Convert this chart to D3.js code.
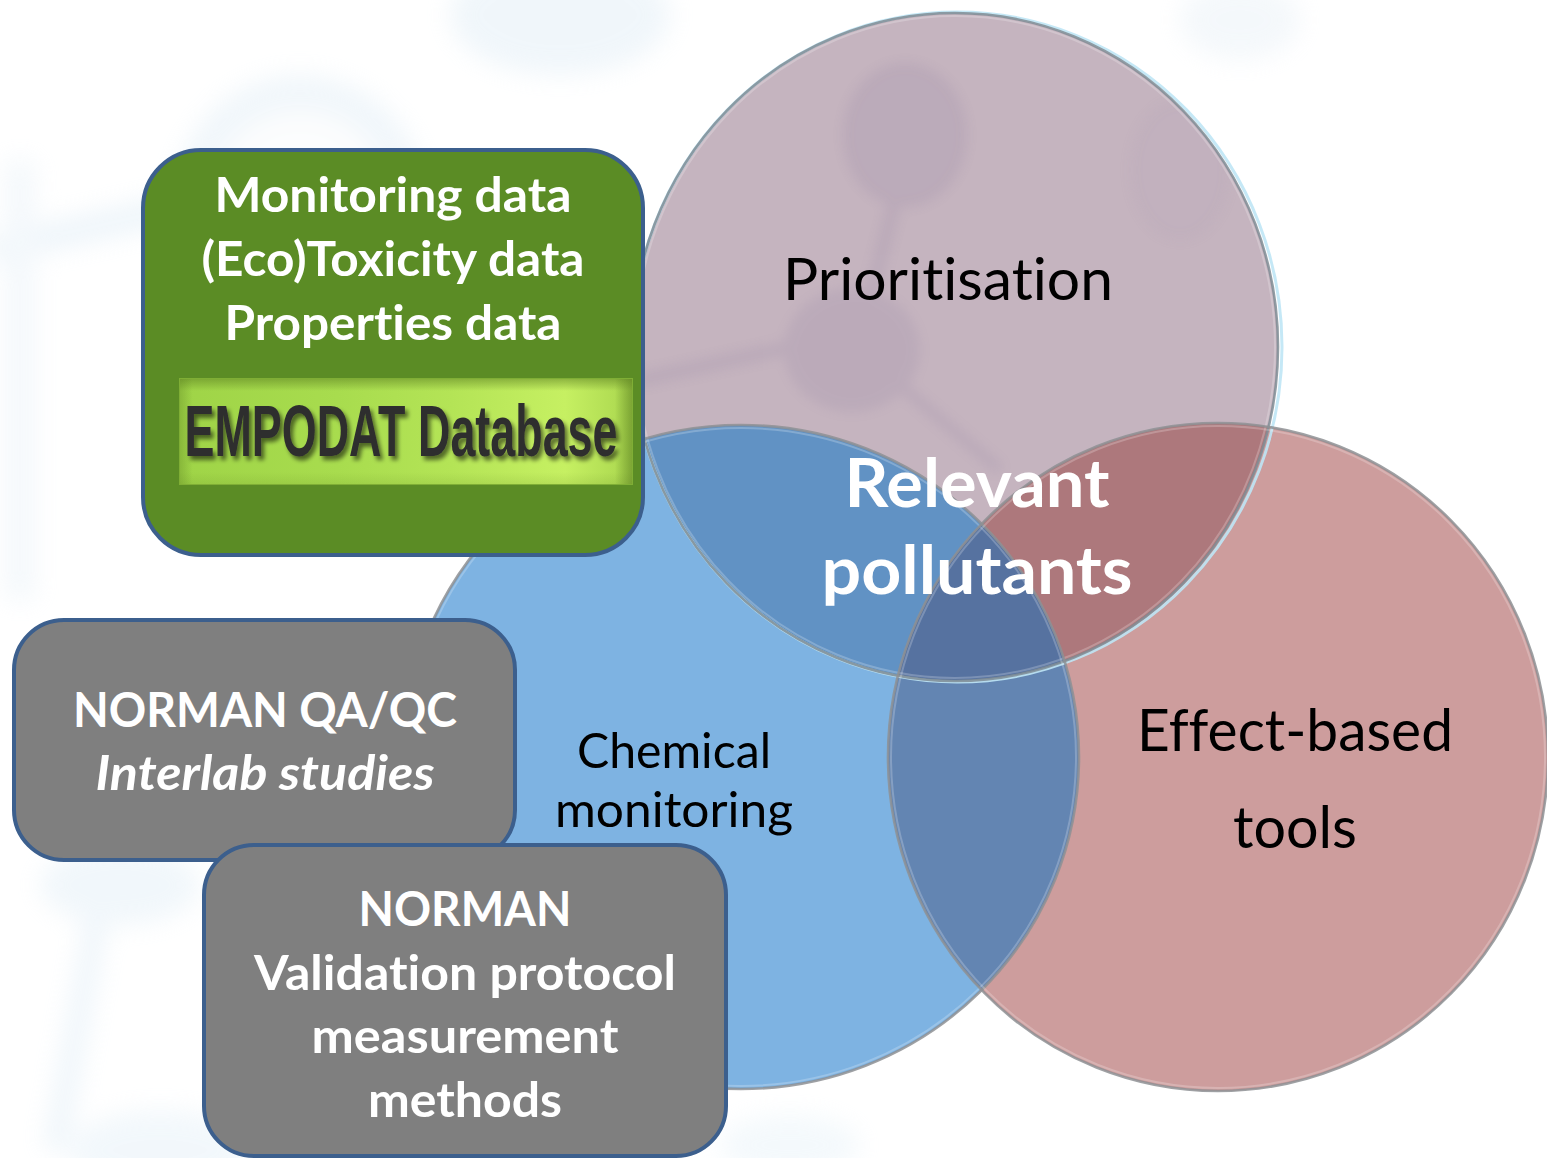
<!DOCTYPE html>
<html><head><meta charset="utf-8">
<script src="https://cdn.jsdelivr.net/npm/d3@7"></script>
<style>html,body{margin:0;padding:0;background:#fff;overflow:hidden}
text{font-variant-ligatures:none;font-feature-settings:"liga" 0,"clig" 0}</style>
</head><body><svg id="chart" width="1547" height="1158"></svg>
<script>
// ---------- content (data) ----------
const setNames = ["Prioritisation", "Chemical monitoring", "Effect-based tools"];
const setLabelLines = [["Prioritisation"], ["Chemical", "monitoring"], ["Effect-based", "tools"]];
const centerLabelLines = ["Relevant", "pollutants"];
const dataBoxLines = ["Monitoring data", "(Eco)Toxicity data", "Properties data"];
const databaseLabel = ["EMPODAT Database"];
const qaqcLines = ["NORMAN QA/QC", "Interlab studies"];
const validationLines = ["NORMAN", "Validation protocol", "measurement", "methods"];

// ---------- layout & style ----------
const W = 1547, H = 1158;
const svg = d3.select("#chart");
const defs = svg.append("defs");
const FONT = "Lato, 'Open Sans', sans-serif";

const ell = [
  {cx: 955, cy: 347, rx: 323, ry: 334, fill: "#c5b4bf"},   // Prioritisation
  {cx: 741, cy: 757, rx: 338, ry: 332, fill: "#7eb3e2"},   // Chemical monitoring
  {cx: 1218, cy: 757, rx: 330, ry: 334, fill: "#cd9d9d"}   // Effect-based tools
];
const colAB = "#6192c4", colAC = "#ad787c", colBC = "#6385b2", colABC = "#5672a0";

// filters
const blur = (id, s) => defs.append("filter").attr("id", id).attr("x", "-50%").attr("y", "-50%").attr("width", "200%").attr("height", "200%")
  .append("feGaussianBlur").attr("stdDeviation", s);
blur("blur12", 12); blur("blur6", 6);
const sh = defs.append("filter").attr("id", "txtShadow").attr("x", "-10%").attr("y", "-30%").attr("width", "130%").attr("height", "160%");
sh.append("feGaussianBlur").attr("in", "SourceAlpha").attr("stdDeviation", 2.2).attr("result", "b");
sh.append("feOffset").attr("in", "b").attr("dx", 3).attr("dy", 4).attr("result", "o");
sh.append("feComponentTransfer").attr("in", "o").attr("result", "o2").append("feFuncA").attr("type", "linear").attr("slope", 0.55);
const mg = sh.append("feMerge"); mg.append("feMergeNode").attr("in", "o2"); mg.append("feMergeNode").attr("in", "SourceGraphic");

// clip paths
["clipA", "clipB", "clipC"].forEach((id, i) => {
  defs.append("clipPath").attr("id", id).append("ellipse")
    .attr("cx", ell[i].cx).attr("cy", ell[i].cy).attr("rx", ell[i].rx).attr("ry", ell[i].ry);
});

// ---------- faint background molecule ----------
const bg = svg.append("g").attr("filter", "url(#blur12)").attr("opacity", 0.3);
bg.append("circle").attr("cx", 300).attr("cy", 200).attr("r", 125).attr("fill", "#cfe3f1");
bg.append("circle").attr("cx", 300).attr("cy", 200).attr("r", 90).attr("fill", "#f6f9fc");
bg.append("ellipse").attr("cx", 560).attr("cy", 15).attr("rx", 110).attr("ry", 60).attr("fill", "#cfe3f1");
bg.append("ellipse").attr("cx", 1240).attr("cy", 20).attr("rx", 60).attr("ry", 40).attr("fill", "#dde9f3");
bg.append("line").attr("x1", -10).attr("y1", 250).attr("x2", 190).attr("y2", 205).attr("stroke", "#c8dff0").attr("stroke-width", 28);
bg.append("line").attr("x1", 20).attr("y1", 160).attr("x2", 20).attr("y2", 600).attr("stroke", "#dbe9f4").attr("stroke-width", 30);
bg.append("line").attr("x1", 55).attr("y1", 1150).attr("x2", 100).attr("y2", 900).attr("stroke", "#c8dff0").attr("stroke-width", 22);
bg.append("ellipse").attr("cx", 120).attr("cy", 885).attr("rx", 80).attr("ry", 40).attr("fill", "#d2e5f2");
bg.append("ellipse").attr("cx", 160).attr("cy", 1150).attr("rx", 90).attr("ry", 40).attr("fill", "#d6e8f4");
bg.append("ellipse").attr("cx", 790).attr("cy", 1145).attr("rx", 70).attr("ry", 30).attr("fill", "#dbecf6");

// ---------- Venn fills ----------
const venn = svg.append("g");
const drawE = (g, e, fill) => g.append("ellipse").attr("cx", e.cx).attr("cy", e.cy).attr("rx", e.rx).attr("ry", e.ry).attr("fill", fill);
drawE(venn, ell[0], ell[0].fill);
drawE(venn, ell[2], ell[2].fill);
drawE(venn, ell[1], ell[1].fill);
const gA = venn.append("g").attr("clip-path", "url(#clipA)");
drawE(gA, ell[1], colAB);
drawE(gA, ell[2], colAC);
const gC = venn.append("g").attr("clip-path", "url(#clipC)");
drawE(gC, ell[1], colBC);
const gAC = venn.append("g").attr("clip-path", "url(#clipA)").append("g").attr("clip-path", "url(#clipC)");
drawE(gAC, ell[1], colABC);

// faint molecule inside the prioritisation circle
const mol = venn.append("g").attr("clip-path", "url(#clipA)").append("g").attr("filter", "url(#blur6)").attr("opacity", 0.11);
mol.append("ellipse").attr("cx", 905).attr("cy", 135).attr("rx", 62).attr("ry", 72).attr("fill", "#6f6290");
mol.append("ellipse").attr("cx", 852).attr("cy", 350).attr("rx", 68).attr("ry", 62).attr("fill", "#6f6290");
mol.append("line").attr("x1", 895).attr("y1", 200).attr("x2", 870).attr("y2", 300).attr("stroke", "#6f6290").attr("stroke-width", 14);
mol.append("line").attr("x1", 640).attr("y1", 380).attr("x2", 800).attr("y2", 345).attr("stroke", "#6f6290").attr("stroke-width", 14);
mol.append("line").attr("x1", 900).attr("y1", 385).attr("x2", 1000).attr("y2", 470).attr("stroke", "#6f6290").attr("stroke-width", 12);
mol.append("ellipse").attr("cx", 1180).attr("cy", 170).attr("rx", 50).attr("ry", 70).attr("fill", "#a898b4");

// rims
const rims = svg.append("g").attr("fill", "none");
rims.append("ellipse").attr("cx", ell[0].cx + 2).attr("cy", ell[0].cy).attr("rx", ell[0].rx + 2).attr("ry", ell[0].ry + 1)
  .attr("stroke", "#bfe6f5").attr("stroke-width", 3).attr("opacity", 0.9);
ell.forEach((e, i) => {
  rims.append("ellipse").attr("cx", e.cx).attr("cy", e.cy).attr("rx", e.rx).attr("ry", e.ry)
    .attr("stroke", i === 0 ? "#7f8c94" : "#8e9094").attr("stroke-width", 2.6).attr("opacity", 0.85);
  rims.append("ellipse").attr("cx", e.cx).attr("cy", e.cy).attr("rx", e.rx - 3).attr("ry", e.ry - 3)
    .attr("stroke", "#ffffff").attr("stroke-width", 2).attr("opacity", 0.22);
});

// ---------- text helper ----------
function addLines(g, lines, x, baselines, opts) {
  g.selectAll(null).data(lines).enter().append("text")
    .attr("x", x).attr("y", (d, i) => baselines[i])
    .attr("text-anchor", "middle")
    .attr("font-family", opts.family || FONT)
    .attr("font-size", (d, i) => Array.isArray(opts.size) ? opts.size[i] : opts.size)
    .attr("font-weight", opts.weight || "normal")
    .attr("font-style", (d, i) => (opts.italic && opts.italic[i]) ? "italic" : "normal")
    .attr("fill", opts.fill)
    .attr("textLength", (d, i) => opts.widths ? opts.widths[i] : null)
    .attr("lengthAdjust", "spacingAndGlyphs")
    .text(d => d);
}

// Venn labels
const labels = svg.append("g");
addLines(labels, setLabelLines[0], 948, [300], {size: 58, fill: "#000", widths: [330]});
addLines(labels, setLabelLines[1], 674, [768, 827], {size: 49, fill: "#000", widths: [194, 238]});
addLines(labels, setLabelLines[2], 1295, [751, 848], {size: 58, fill: "#000", widths: [316, 124]});
addLines(labels, centerLabelLines, 977, [507, 594], {size: 66, weight: "bold", fill: "#fff", widths: [265, 311]});

// ---------- boxes ----------
const boxes = svg.append("g");
const BOX_STROKE = "#3c5f8d";
boxes.append("rect").attr("x", 143).attr("y", 150).attr("width", 500).attr("height", 405).attr("rx", 58)
  .attr("fill", "#5b8c25").attr("stroke", BOX_STROKE).attr("stroke-width", 4);
addLines(boxes, dataBoxLines, 393, [212, 276, 340], {size: 48, weight: "bold", fill: "#fff", widths: [357, 383, 337]});

// EMPODAT banner
const lg = defs.append("linearGradient").attr("id", "lime").attr("x1", "0").attr("x2", "1").attr("y1", "0").attr("y2", "0");
[[0, "#9fd447"], [0.35, "#a8dc4e"], [0.6, "#b4e456"], [0.85, "#c6f062"], [1, "#a9d64e"]].forEach(s =>
  lg.append("stop").attr("offset", s[0]).attr("stop-color", s[1]));
const vg = defs.append("linearGradient").attr("id", "limeV").attr("x1", "0").attr("x2", "0").attr("y1", "0").attr("y2", "1");
[[0, "#5a7f20", 0.55], [0.12, "#5a7f20", 0], [0.88, "#5a7f20", 0], [1, "#5a7f20", 0.15]].forEach(s =>
  vg.append("stop").attr("offset", s[0]).attr("stop-color", s[1]).attr("stop-opacity", s[2]));
const hg = defs.append("linearGradient").attr("id", "limeH").attr("x1", "0").attr("x2", "1").attr("y1", "0").attr("y2", "0");
[[0, "#5a7f20", 0.35], [0.03, "#5a7f20", 0], [0.96, "#5a7f20", 0], [1, "#5a7f20", 0.6]].forEach(s =>
  hg.append("stop").attr("offset", s[0]).attr("stop-color", s[1]).attr("stop-opacity", s[2]));
boxes.append("rect").attr("x", 179).attr("y", 378).attr("width", 454).attr("height", 107).attr("fill", "url(#lime)");
boxes.append("rect").attr("x", 179).attr("y", 378).attr("width", 454).attr("height", 107).attr("fill", "url(#limeV)");
boxes.append("rect").attr("x", 179).attr("y", 378).attr("width", 454).attr("height", 107).attr("fill", "url(#limeH)");
boxes.append("rect").attr("x", 179.5).attr("y", 378.5).attr("width", 453).attr("height", 106).attr("fill", "none").attr("stroke", "#7fae35").attr("stroke-width", 1);
const dbText = boxes.append("g").attr("filter", "url(#txtShadow)");
addLines(dbText, databaseLabel, 401, [456], {family: "'Liberation Sans Narrow', 'Arial Narrow', sans-serif", size: 72, weight: "bold", fill: "#2f2f2f", widths: [433]});

// gray boxes
boxes.append("rect").attr("x", 14).attr("y", 620).attr("width", 501).attr("height", 240).attr("rx", 50)
  .attr("fill", "#7f7f7f").attr("stroke", BOX_STROKE).attr("stroke-width", 4);
addLines(boxes, qaqcLines, 265, [727, 790], {size: 48, weight: "bold", fill: "#fff", italic: [false, true], widths: [384, 339]});

boxes.append("rect").attr("x", 204).attr("y", 845).attr("width", 522).attr("height", 311).attr("rx", 50)
  .attr("fill", "#7f7f7f").attr("stroke", BOX_STROKE).attr("stroke-width", 4);
addLines(boxes, validationLines, 465, [926, 990, 1053, 1117], {size: 48, weight: "bold", fill: "#fff", widths: [213, 422, 307, 194]});
</script>
</body></html>
